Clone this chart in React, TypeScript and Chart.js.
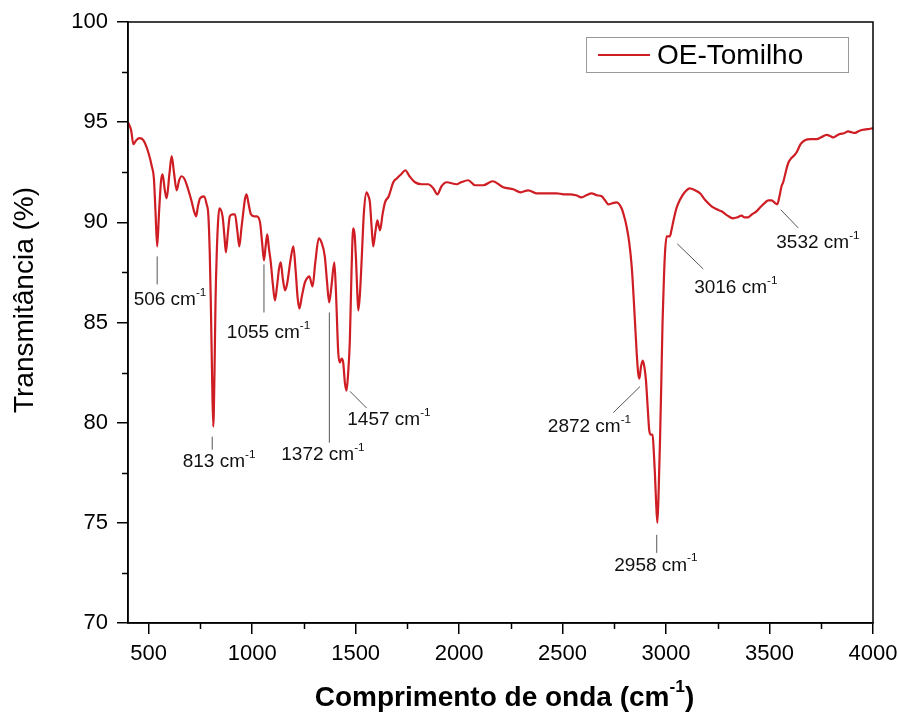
import React, { useEffect, useRef } from "react";
import { Chart, registerables } from "chart.js";

Chart.register(...registerables);

const FONT = "'Liberation Sans', Arial, sans-serif";

// Spectrum: wavenumber (cm-1) and transmittance (%)
const wavenumbers = [
  400, 415, 426, 440, 455, 474, 498, 515, 525, 533, 541, 550, 560, 567, 578, 587, 600, 611, 622, 635,
  647, 659, 671, 683, 706, 718, 729, 738, 748, 768, 780, 788, 795, 800, 806, 812, 818, 823, 829, 835,
  841, 857, 866, 873, 882, 892, 905, 917, 928, 938, 948, 957, 966, 973, 983, 994, 1010, 1022, 1038, 1048,
  1057, 1065, 1073, 1081, 1090, 1100, 1110, 1120, 1130, 1138, 1148, 1159, 1170, 1185, 1199, 1210, 1220, 1228, 1240, 1255,
  1265, 1276, 1292, 1305, 1322, 1335, 1351, 1362, 1372, 1383, 1397, 1405, 1416, 1424, 1432, 1440, 1448, 1456, 1464, 1472,
  1480, 1488, 1495, 1502, 1508, 1513, 1520, 1529, 1540, 1553, 1562, 1569, 1577, 1585, 1595, 1605, 1612, 1618, 1630, 1642,
  1660, 1682, 1700, 1720, 1740, 1760, 1787, 1820, 1851, 1875, 1895, 1915, 1940, 1988, 2010, 2044, 2077, 2117, 2162, 2213,
  2262, 2297, 2334, 2374, 2410, 2440, 2471, 2505, 2536, 2565, 2592, 2615, 2640, 2665, 2689, 2705, 2721, 2740, 2761, 2785,
  2800, 2809, 2822, 2834, 2842, 2850, 2858, 2865, 2871, 2879, 2887, 2895, 2903, 2911, 2919, 2927, 2935, 2941, 2946, 2952,
  2958, 2964, 2971, 2977, 2983, 2990, 2995, 3003, 3010, 3018, 3026, 3034, 3050, 3066, 3090, 3115, 3140, 3164, 3190, 3220,
  3245, 3268, 3295, 3324, 3345, 3365, 3380, 3397, 3415, 3437, 3460, 3480, 3494, 3510, 3518, 3528, 3537, 3548, 3558, 3566,
  3578, 3590, 3605, 3620, 3631, 3650, 3671, 3700, 3728, 3750, 3776, 3795, 3808, 3820, 3839, 3860, 3880, 3895, 3912, 3930,
  3952, 3975, 4000,
];

const transmittance = [
  95.0, 94.6, 93.9, 94.1, 94.2, 94.1, 93.5, 92.8, 92.2, 90.5, 88.8, 90.5, 92.1, 92.4, 91.6, 91.2, 92.4, 93.3, 92.5, 91.6,
  92.1, 92.3, 92.2, 91.9, 91.1, 90.6, 90.3, 90.8, 91.2, 91.3, 90.9, 90.4, 88.5, 86.1, 82.5, 79.8, 82.5, 86.1, 88.5, 90.0,
  90.7, 90.3, 89.3, 88.5, 89.4, 90.3, 90.4, 90.4, 89.6, 88.8, 89.7, 90.5, 91.2, 91.4, 90.9, 90.4, 90.3, 90.3, 90.0, 89.0,
  88.1, 88.8, 89.4, 88.7, 88.0, 86.9, 86.1, 86.8, 87.7, 88.0, 87.2, 86.6, 87.0, 88.1, 88.8, 87.6, 86.2, 85.7, 86.3, 87.0,
  87.2, 87.3, 86.8, 88.0, 89.2, 89.0, 88.3, 87.0, 86.0, 86.8, 88.0, 86.5, 83.5, 83.0, 83.2, 83.0, 82.0, 81.6, 82.5, 84.1,
  87.5, 89.7, 89.4, 88.1, 86.5, 85.6, 86.3, 88.1, 90.5, 91.5, 91.3, 91.0, 89.8, 88.8, 89.5, 90.1, 89.8, 89.6, 90.4, 91.0,
  91.3, 92.0, 92.2, 92.4, 92.6, 92.3, 92.0, 91.9, 91.9, 91.7, 91.4, 91.8, 92.0, 91.9, 92.0, 92.1, 91.85, 91.85, 92.05, 91.75,
  91.65, 91.5, 91.6, 91.45, 91.45, 91.45, 91.45, 91.4, 91.4, 91.35, 91.25, 91.35, 91.45, 91.35, 91.3, 91.1, 90.9, 90.95, 91.0, 90.7,
  90.2, 89.8, 89.0, 87.8, 86.5, 85.0, 83.5, 82.5, 82.2, 82.8, 83.1, 82.8, 82.1, 80.8, 79.6, 79.4, 79.4, 78.5, 77.5, 76.0,
  75.0, 76.5, 79.2, 82.0, 85.0, 87.3, 88.5, 89.3, 89.3, 89.3, 89.6, 90.0, 90.7, 91.1, 91.5, 91.7, 91.6, 91.45, 91.1, 90.8,
  90.65, 90.55, 90.35, 90.2, 90.25, 90.33, 90.25, 90.25, 90.4, 90.55, 90.8, 91.0, 91.1, 91.1, 91.05, 90.95, 90.9, 91.3, 91.8, 92.0,
  92.5, 92.95, 93.2, 93.35, 93.5, 93.9, 94.1, 94.15, 94.15, 94.25, 94.37, 94.3, 94.24, 94.3, 94.41, 94.45, 94.54, 94.5, 94.46, 94.55,
  94.62, 94.65, 94.7,
];

const seriesName = "OE-Tomilho";
const xTitle = "Comprimento de onda (cm";
const yTitle = "Transmitância (%)";
const xTickValues = [500, 1000, 1500, 2000, 2500, 3000, 3500, 4000];
const xMinorValues = [750, 1250, 1750, 2250, 2750, 3250, 3750];
const yTickValues = [70, 75, 80, 85, 90, 95, 100];
const yMinorValues = [72.5, 77.5, 82.5, 87.5, 92.5, 97.5];

// Peak annotations (data coordinates)
const peakLabels = ["506", "813", "1055", "1372", "1457", "2872", "2958", "3016", "3532"];
const leaderFromX = [541, 807, 1057, 1373, 1473, 2874, 2955, 3054, 3554];
const leaderFromY = [88.3, 79.3, 87.9, 85.5, 81.56, 81.8, 74.4, 88.93, 90.63];
const leaderToX = [541, 807, 1057, 1373, 1553, 2745, 2955, 3180, 3639];
const leaderToY = [86.9, 78.65, 85.5, 79.0, 80.73, 80.5, 73.5, 87.67, 89.72];
const labelX = [603, 840, 1079, 1342, 1661, 2630, 2951, 3337, 3734];
const labelY = [86.14, 78.06, 84.5, 78.4, 80.14, 79.8, 72.88, 86.72, 88.97];

const LINE_COLOR = "#cf1d24";

function drawSupText(
  ctx: CanvasRenderingContext2D,
  parts: { t: string; sup?: boolean }[],
  cx: number,
  cy: number,
  size: number,
  weight: string
) {
  const supSize = size * 0.62;
  const widths = parts.map((p) => {
    ctx.font = `${weight} ${p.sup ? supSize : size}px ${FONT}`;
    return ctx.measureText(p.t).width;
  });
  const total = widths.reduce((a, b) => a + b, 0);
  let x = cx - total / 2;
  ctx.textAlign = "left";
  ctx.textBaseline = "middle";
  parts.forEach((p, i) => {
    ctx.font = `${weight} ${p.sup ? supSize : size}px ${FONT}`;
    ctx.fillText(p.t, x, p.sup ? cy - size * 0.38 : cy);
    x += widths[i];
  });
}

const decorPlugin = {
  id: "decor",
  afterDraw(chart: any) {
    const { ctx, chartArea, scales } = chart;
    const xs = scales.x;
    const ys = scales.y;
    ctx.save();
    // frame
    ctx.strokeStyle = "#000";
    ctx.lineWidth = 1.5;
    ctx.strokeRect(chartArea.left, chartArea.top, chartArea.right - chartArea.left, chartArea.bottom - chartArea.top);
    // minor ticks
    ctx.beginPath();
    xMinorValues.forEach((v) => {
      const px = Math.round(xs.getPixelForValue(v)) + 0.5;
      ctx.moveTo(px, chartArea.bottom);
      ctx.lineTo(px, chartArea.bottom + 6);
    });
    yMinorValues.forEach((v) => {
      const py = Math.round(ys.getPixelForValue(v)) + 0.5;
      ctx.moveTo(chartArea.left, py);
      ctx.lineTo(chartArea.left - 6, py);
    });
    ctx.stroke();

    // leader lines
    ctx.strokeStyle = "#555";
    ctx.lineWidth = 1;
    ctx.beginPath();
    peakLabels.forEach((_, i) => {
      ctx.moveTo(xs.getPixelForValue(leaderFromX[i]), ys.getPixelForValue(leaderFromY[i]));
      ctx.lineTo(xs.getPixelForValue(leaderToX[i]), ys.getPixelForValue(leaderToY[i]));
    });
    ctx.stroke();

    // peak labels
    ctx.fillStyle = "#111";
    peakLabels.forEach((lab, i) => {
      drawSupText(
        ctx,
        [{ t: lab + " cm" }, { t: "-1", sup: true }],
        xs.getPixelForValue(labelX[i]),
        ys.getPixelForValue(labelY[i]),
        19,
        "normal"
      );
    });

    // axis titles
    ctx.fillStyle = "#000";
    drawSupText(
      ctx,
      [{ t: xTitle }, { t: "-1", sup: true }, { t: ")" }],
      (chartArea.left + chartArea.right) / 2 + 4,
      chart.height - 17,
      28,
      "bold"
    );
    ctx.save();
    ctx.translate(25, 300);
    ctx.rotate(-Math.PI / 2);
    drawSupText(ctx, [{ t: yTitle }], 0, 0, 28, "normal");
    ctx.restore();

    // legend
    const bx = chartArea.right - 287;
    const by = chartArea.top + 15;
    ctx.strokeStyle = "#999";
    ctx.lineWidth = 1;
    ctx.strokeRect(bx + 0.5, by + 0.5, 262, 35);
    ctx.strokeStyle = LINE_COLOR;
    ctx.lineWidth = 2;
    ctx.beginPath();
    ctx.moveTo(bx + 12, by + 18);
    ctx.lineTo(bx + 64, by + 18);
    ctx.stroke();
    ctx.fillStyle = "#000";
    ctx.font = `28px ${FONT}`;
    ctx.textAlign = "left";
    ctx.textBaseline = "middle";
    ctx.fillText(seriesName, bx + 71, by + 19);
    ctx.restore();
  },
};

export default function App() {
  const canvasRef = useRef<HTMLCanvasElement | null>(null);

  useEffect(() => {
    if (!canvasRef.current) return;
    const points = wavenumbers.map((w, i) => ({ x: w, y: transmittance[i] }));
    const chart = new Chart(canvasRef.current, {
      type: "line",
      data: {
        datasets: [
          {
            label: seriesName,
            data: points,
            borderColor: LINE_COLOR,
            backgroundColor: LINE_COLOR,
            borderWidth: 2.2,
            pointRadius: 0,
            cubicInterpolationMode: "monotone",
            fill: false,
          },
        ],
      },
      options: {
        responsive: false,
        animation: false,
        layout: { padding: { left: 0, right: 26, top: 22, bottom: 0 } },
        plugins: { legend: { display: false }, tooltip: { enabled: false }, title: { display: false } },
        scales: {
          x: {
            type: "linear",
            min: 400,
            max: 4000,
            afterBuildTicks: (s: any) => {
              s.ticks = xTickValues.map((v) => ({ value: v }));
            },
            afterFit: (s: any) => {
              s.height = 92;
              s.paddingLeft = 0;
              s.paddingRight = 0;
            },
            ticks: {
              color: "#000",
              font: { family: FONT, size: 22 },
              padding: 7,
              maxRotation: 0,
              autoSkip: false,
              callback: (v: any) => String(v),
            },
            grid: { display: true, drawOnChartArea: false, drawTicks: true, tickLength: 11, color: "#000", lineWidth: 1.5 },
            border: { display: true, color: "#000", width: 1.5 },
          },
          y: {
            type: "linear",
            min: 70,
            max: 100,
            afterBuildTicks: (s: any) => {
              s.ticks = yTickValues.map((v) => ({ value: v }));
            },
            afterFit: (s: any) => {
              s.width = 128;
              s.paddingTop = 0;
              s.paddingBottom = 0;
            },
            ticks: {
              color: "#000",
              font: { family: FONT, size: 22 },
              padding: 9,
              autoSkip: false,
              callback: (v: any) => String(v),
            },
            grid: { display: true, drawOnChartArea: false, drawTicks: true, tickLength: 11, color: "#000", lineWidth: 1.5 },
            border: { display: true, color: "#000", width: 1.5 },
          },
        },
      },
      plugins: [decorPlugin],
    });
    return () => chart.destroy();
  }, []);

  return (
    <div style={{ position: "absolute", left: 0, top: 0, width: 899, height: 715, background: "#fff" }}>
      <canvas ref={canvasRef} width={899} height={715} style={{ display: "block" }} />
    </div>
  );
}
